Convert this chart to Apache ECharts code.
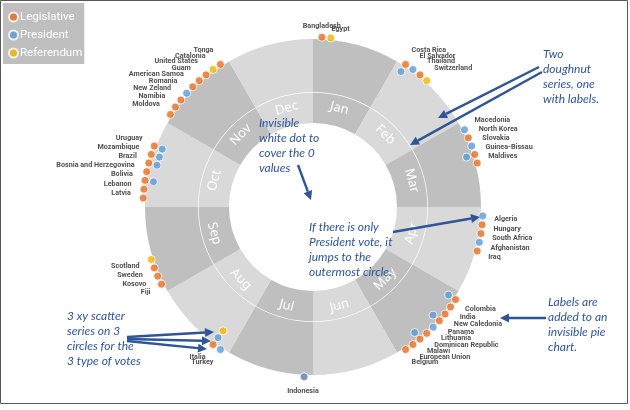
<!DOCTYPE html>
<html>
<head>
<meta charset="utf-8">
<script src="https://cdn.jsdelivr.net/npm/echarts@6/dist/echarts.min.js"></script>
<style>
  html, body { margin: 0; padding: 0; background: #fff; }
  #chart { width: 630px; height: 410px; }
</style>
</head>
<body>
<div id="chart"></div>
<script>
  // months of the two doughnuts
  const months = ['Jan', 'Feb', 'Mar', 'Apr', 'May', 'Jun', 'Jul', 'Aug', 'Sep', 'Oct', 'Nov', 'Dec'];

  // countries with an election, clockwise from the top
  const countries = [
    'Bangladesh', 'Egypt',
    'Costa Rica', 'El Salvador', 'Thailand', 'Switzerland',
    'Macedonia', 'North Korea', 'Slovakia', 'Guinea-Bissau', 'Maldives',
    'Algeria', 'Hungary', 'South Africa', 'Afghanistan', 'Iraq',
    'Colombia', 'India', 'New Caledonia', 'Panama', 'Lithuania', 'Dominican Republic', 'Malawi', 'European Union', 'Belgium',
    'Indonesia',
    'Turkey', 'Italia',
    'Fiji', 'Kosovo', 'Sweden', 'Scotland',
    'Latvia', 'Lebanon', 'Bolivia', 'Bosnia and Herzegovina', 'Brazil', 'Mozambique', 'Uruguay',
    'Moldova', 'Namibia', 'New Zeland', 'Romania', 'American Samoa', 'Guam', 'United States', 'Catalonia', 'Tonga',
  ];

  // angle of each country (degrees clockwise from 12 o'clock)
  const angles = [
    3, 6,
    33, 36, 39, 42,
    63, 66, 69, 72, 75,
    93, 96, 99, 102, 105,
    123, 126, 129, 132, 135, 138, 141, 144, 147,
    183,
    213, 216,
    243, 246, 249, 252,
    273, 276, 279, 282, 285, 288, 291,
    303, 306, 309, 312, 315, 318, 321, 324, 327,
  ];

  // circle of each vote type (0 = no vote, 3 = outermost circle)
  const legislative = [
    3, 0,
    3, 0, 3, 0,
    0, 3, 0, 3, 3,
    0, 3, 3, 0, 3,
    3, 3, 3, 3, 0, 3, 3, 3, 3,
    3,
    0, 3,
    3, 3, 3, 0,
    3, 3, 3, 3, 3, 3, 3,
    3, 3, 3, 0, 3, 3, 3, 0, 3,
  ];
  const president = [
    0, 0,
    2, 3, 0, 0,
    3, 0, 3, 2, 0,
    3, 0, 0, 3, 0,
    2, 0, 0, 2, 3, 0, 2, 0, 0,
    3,
    3, 2,
    0, 0, 0, 0,
    0, 0, 2, 0, 2, 2, 2,
    0, 0, 0, 3, 0, 0, 0, 0, 0,
  ];
  const referendum = [
    0, 3,
    0, 0, 0, 3,
    0, 0, 0, 0, 0,
    0, 0, 0, 0, 0,
    0, 0, 0, 0, 0, 0, 0, 0, 0,
    0,
    0, 1,
    0, 0, 0, 3,
    0, 0, 0, 0, 0, 0, 0,
    0, 0, 0, 0, 0, 0, 0, 3, 0,
  ];

  const CX = 313, CY = 207;
  const LABEL_R = 4.4; // radius (in circle units) where the country labels sit
  const LABEL_R_TOP = 3.8;
  const ANN = '#2F5597';
  const NARROW = "Roboto, sans-serif";

  const chart = echarts.init(document.getElementById('chart'));

  const votePoints = (levels) =>
    levels.map((lv, i) => (lv > 0 ? [lv, angles[i]] : null)).filter((d) => d);

  const labelData = countries.map((name, i) => {
    const rad = (angles[i] * Math.PI) / 180;
    const sx = Math.sin(rad);
    const cy = Math.cos(rad);
    let align = sx > 0 ? 'left' : 'right';
    let vAlign = cy > 0 ? 'bottom' : 'top';
    let r = LABEL_R;
    if (Math.abs(sx) < 0.07) {
      align = 'center';
      if (cy > 0) r = LABEL_R_TOP;
    } else if (Math.abs(sx) < 0.2) {
      vAlign = 'top';
    }
    return {
      name: name,
      value: [r, angles[i]],
      label: { align: align, verticalAlign: vAlign },
    };
  });

  const scatterBase = {
    type: 'scatter',
    coordinateSystem: 'polar',
    symbolSize: 8,
    z: 5,
  };

  const arrow = (x1, y1, x2, y2) => {
    const a = Math.atan2(y2 - y1, x2 - x1);
    const L = 9, W = 4.5;
    const bx = x2 - L * Math.cos(a), by = y2 - L * Math.sin(a);
    return [
      { type: 'line', shape: { x1: x1, y1: y1, x2: bx, y2: by }, style: { stroke: ANN, lineWidth: 2.4 }, z: 20 },
      {
        type: 'polygon',
        shape: { points: [[x2, y2], [bx - W * Math.sin(a), by + W * Math.cos(a)], [bx + W * Math.sin(a), by - W * Math.cos(a)]] },
        style: { fill: ANN },
        z: 20,
      },
    ];
  };

  const note = (x, y, text) => ({
    type: 'text',
    left: x,
    top: y,
    z: 20,
    style: { text: text, fill: ANN, font: 'italic 12px Lato, sans-serif', lineHeight: 15 },
  });

  const ringColor = (p) => (p.dataIndex % 2 === 0 ? '#bfbfbf' : '#d9d9d9');

  const option = {
    animation: false,
    backgroundColor: '#fff',
    legend: {
      left: 3,
      top: 3,
      orient: 'vertical',
      backgroundColor: '#bfbfbf',
      padding: [8, 2, 5, 5],
      itemGap: 6,
      itemWidth: 9,
      itemHeight: 9,
      icon: 'circle',
      data: ['Legislative', 'President', 'Referendum'],
      textStyle: { color: '#fff', fontSize: 11.5, fontFamily: NARROW, padding: [0, 0, 0, -3] },
    },
    polar: { center: [CX, CY], radius: [144.5, 187] },
    angleAxis: { type: 'value', min: 0, max: 360, startAngle: 90, clockwise: true, show: false },
    radiusAxis: { type: 'value', min: 0, max: 5, show: false },
    graphic: [
      { type: 'rect', shape: { x: 0.5, y: 0.5, width: 627, height: 403 }, style: { fill: 'none', stroke: '#595959', lineWidth: 1 }, z: 30 },
      note(259, 116, 'Invisible\nwhite dot to\ncover the 0\nvalues'),
      note(543, 47, 'Two\ndoughnut\nseries, one\nwith labels.'),
      note(309, 220, 'If there is only\nPresident vote, it\njumps to the\noutermost circle.'),
      note(67, 309, '3 xy scatter\nseries on 3\ncircles for the\n3 type of votes'),
      note(548, 295, 'Labels are\nadded to an\ninvisible pie\nchart.'),
      ...arrow(539, 67, 438, 118),
      ...arrow(542, 72, 410, 145),
      ...arrow(298, 165, 311, 200),
      ...arrow(393, 232, 480, 217),
      ...arrow(127, 337, 214, 332),
      ...arrow(127, 339, 211, 341),
      ...arrow(127, 341, 207, 349),
      ...arrow(546, 318, 500, 318),
    ],
    series: [
      {
        type: 'pie',
        silent: true,
        center: [CX, CY],
        radius: [115, 168],
        startAngle: 90,
        itemStyle: { color: ringColor },
        label: { show: false },
        labelLine: { show: false },
        data: months.map((m) => ({ name: m, value: 1 })),
      },
      {
        type: 'pie',
        silent: true,
        center: [CX, CY],
        radius: [84, 114.3],
        startAngle: 90,
        itemStyle: { color: ringColor },
        label: {
          show: true,
          position: 'inside',
          rotate: 'tangential',
          color: '#fff',
          fontSize: 13,
          fontFamily: "'Noto Sans', sans-serif",
          formatter: '{b}',
        },
        labelLine: { show: false },
        data: months.map((m) => ({ name: m, value: 1 })),
      },
      {
        ...scatterBase,
        name: 'Legislative',
        itemStyle: { color: '#E46C1E', borderColor: '#fff', borderWidth: 1 },
        data: votePoints(legislative),
      },
      {
        ...scatterBase,
        name: 'President',
        itemStyle: { color: '#5B9BD5', borderColor: '#fff', borderWidth: 1 },
        data: votePoints(president),
      },
      {
        ...scatterBase,
        name: 'Referendum',
        itemStyle: { color: '#F0B400', borderColor: '#fff', borderWidth: 1 },
        data: votePoints(referendum),
      },
      {
        type: 'scatter',
        coordinateSystem: 'polar',
        name: 'labels',
        silent: true,
        symbolSize: 1,
        itemStyle: { color: 'rgba(0,0,0,0)' },
        label: {
          show: true,
          position: [0, 0],
          formatter: '{b}',
          color: '#222',
          fontSize: 7.2,
          fontWeight: 'bold',
          fontFamily: NARROW,
        },
        data: labelData,
      },
    ],
  };

  chart.setOption(option);
  window.addEventListener('resize', () => chart.resize());
</script>
</body>
</html>
